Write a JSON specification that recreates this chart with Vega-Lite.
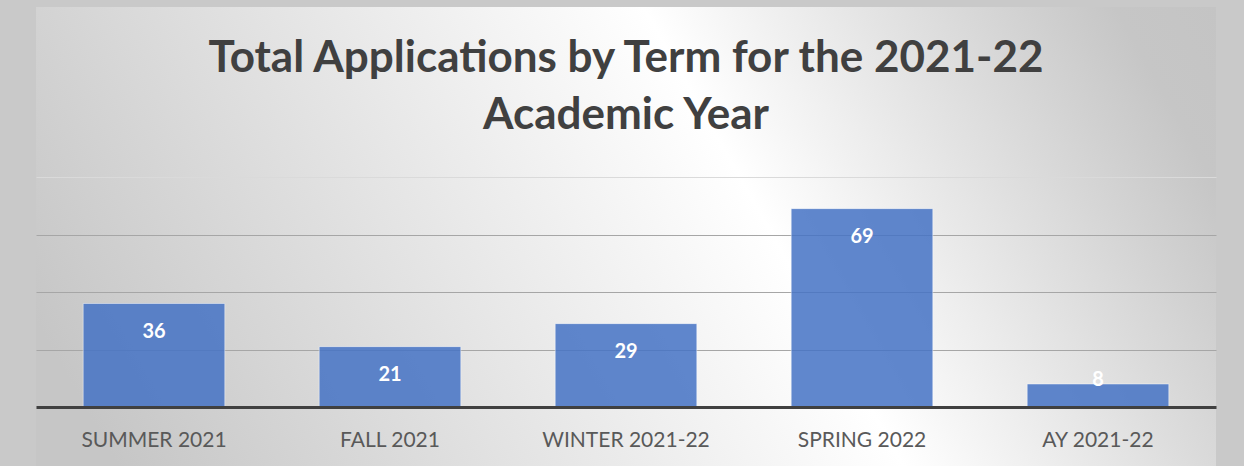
{
  "$schema": "https://vega.github.io/schema/vega-lite/v6.json",
  "width": 1180,
  "height": 459,
  "autosize": {"type": "none"},
  "padding": {"left": 36, "top": 7, "right": 28, "bottom": 0},
  "background": "#c9c9c9",
  "view": {
    "stroke": null,
    "fill": {
      "gradient": "linear",
      "x1": -0.01, "y1": 0.64, "x2": 1.26, "y2": 0.36,
      "stops": [
        {"offset": 0, "color": "#c6c6c6"},
        {"offset": 0.5, "color": "#ffffff"},
        {"offset": 0.8, "color": "#c6c6c6"},
        {"offset": 1, "color": "#c0c0c0"}
      ]
    }
  },
  "title": {
    "text": ["Total Applications by Term for the 2021-22", "Academic Year"],
    "font": "Lato",
    "fontSize": 44,
    "fontWeight": "bold",
    "color": "#404040",
    "anchor": "middle",
    "baseline": "alphabetic",
    "offset": -166,
    "lineHeight": 57
  },
  "data": {
    "values": [
      {"term": "SUMMER 2021", "count": 36},
      {"term": "FALL 2021", "count": 21},
      {"term": "WINTER 2021-22", "count": 29},
      {"term": "SPRING 2022", "count": 69},
      {"term": "AY 2021-22", "count": 8}
    ]
  },
  "encoding": {
    "x": {
      "field": "term",
      "type": "nominal",
      "sort": null,
      "scale": {"paddingInner": 0.4, "paddingOuter": 0.2},
      "axis": {
        "title": null,
        "orient": "bottom",
        "offset": -59,
        "domainColor": "#404040",
        "domainWidth": 3,
        "ticks": false,
        "labelFont": "Lato",
        "labelFontSize": 21,
        "labelColor": "#595959",
        "labelPadding": 22,
        "labelAngle": 0,
        "zindex": 1
      }
    },
    "y": {
      "field": "count",
      "type": "quantitative",
      "scale": {"domain": [-20.52, 139.13], "nice": false, "zero": false},
      "axis": {
        "title": null,
        "labels": false,
        "ticks": false,
        "domain": false,
        "values": [20, 40, 60, 80],
        "grid": true,
        "gridColor": {"condition": {"test": "datum.value === 80", "value": "#dadada"}, "value": "#a6a6a6"},
        "gridWidth": 1,
        "zindex": 0
      }
    }
  },
  "layer": [
    {
      "mark": {"type": "bar", "fill": "#4472c4", "fillOpacity": 0.85, "stroke": "#ffffff", "strokeOpacity": 0.45, "strokeWidth": 1},
      "encoding": {"y2": {"datum": 0}}
    },
    {
      "transform": [{"filter": "datum.count >= 15"}],
      "mark": {"type": "text", "baseline": "middle", "dy": 28, "font": "Lato", "fontSize": 20, "fontWeight": "bold", "color": "#ffffff"},
      "encoding": {"text": {"field": "count", "type": "quantitative"}}
    },
    {
      "transform": [{"filter": "datum.count < 15"}],
      "mark": {"type": "text", "baseline": "middle", "dy": -4, "font": "Lato", "fontSize": 20, "fontWeight": "bold", "color": "#ffffff"},
      "encoding": {"text": {"field": "count", "type": "quantitative"}}
    }
  ]
}
